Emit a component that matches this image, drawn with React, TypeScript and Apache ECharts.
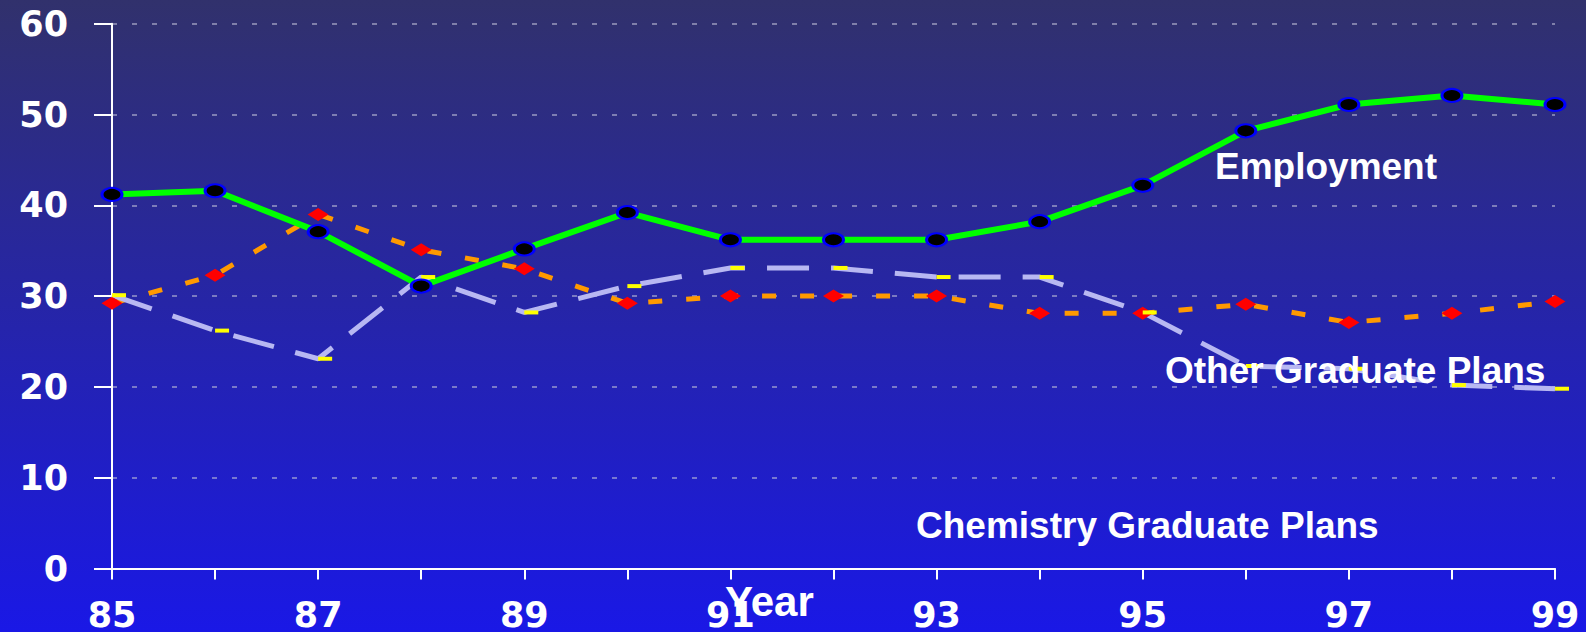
import React, { useEffect, useRef } from "react";
import * as echarts from "echarts";

const years = ["85", "86", "87", "88", "89", "90", "91", "92", "93", "94", "95", "96", "97", "98", "99"];
const employment = [41.2, 41.6, 37.1, 31.1, 35.2, 39.2, 36.2, 36.2, 36.2, 38.2, 42.2, 48.2, 51.1, 52.1, 51.1];
const otherPlans = [29.2, 32.3, 39.0, 35.1, 33.0, 29.2, 30.0, 30.0, 30.0, 28.1, 28.1, 29.1, 27.1, 28.1, 29.4];
const chemistryPlans = [30.1, 26.2, 23.1, 32.1, 28.2, 31.1, 33.1, 33.1, 32.1, 32.1, 28.2, 22.3, 22.0, 20.2, 19.8];
const yTicks = { min: 0, max: 60, interval: 10 };
const annotations = [
  { text: "Employment", x: 1215, y: 166 },
  { text: "Other Graduate Plans", x: 1165, y: 370 },
  { text: "Chemistry Graduate Plans", x: 916, y: 525 },
];
const axisTitle = { text: "Year", x: 725, y: 601 };

export default function App() {
  const ref = useRef<HTMLDivElement>(null);
  useEffect(() => {
    document.body.style.margin = "0";
    const chart = echarts.init(ref.current!, null, { renderer: "svg" });
    const labelFont = {
      color: "#ffffff",
      fontFamily: "DejaVu Sans",
      fontWeight: "bold" as const,
      fontSize: 35,
    };
    chart.setOption({
      animation: false,
      backgroundColor: {
        type: "linear",
        x: 0,
        y: 0,
        x2: 0,
        y2: 1,
        colorStops: [
          { offset: 0, color: "#31316c" },
          { offset: 1, color: "#1a18e6" },
        ],
      },
      grid: { left: 112, top: 23.7, right: 31, bottom: 62.3, containLabel: false },
      xAxis: {
        type: "category",
        data: years,
        boundaryGap: false,
        axisLine: { lineStyle: { color: "#ffffff", width: 2 } },
        axisTick: { show: true, interval: 0, length: 11, lineStyle: { color: "#ffffff", width: 2 } },
        axisLabel: { ...labelFont, interval: 1, margin: 32, lineHeight: 28, verticalAlign: "top" },
        splitLine: { show: false },
      },
      yAxis: {
        type: "value",
        min: yTicks.min,
        max: yTicks.max,
        interval: yTicks.interval,
        axisLine: { show: true, lineStyle: { color: "#ffffff", width: 2 } },
        axisTick: { show: true, length: 18, lineStyle: { color: "#ffffff", width: 2 } },
        axisLabel: { ...labelFont, margin: 44 },
        splitLine: {
          show: true,
          lineStyle: { color: "rgba(190,190,215,0.75)", width: 1.5, type: [5, 15] },
        },
      },
      graphic: [
        ...annotations.map((a) => ({
          type: "text",
          x: a.x,
          y: a.y,
          z: 100,
          style: {
            text: a.text,
            fill: "#ffffff",
            font: "bold 37px 'Liberation Sans', Arial, sans-serif",
            textAlign: "left",
            textVerticalAlign: "middle",
          },
        })),
        {
          type: "text",
          x: axisTitle.x,
          y: axisTitle.y,
          z: 100,
          style: {
            text: axisTitle.text,
            fill: "#ffffff",
            font: "bold 42px 'Liberation Sans', Arial, sans-serif",
            textAlign: "left",
            textVerticalAlign: "middle",
          },
        },
      ],
      series: [
        {
          name: "Other Graduate Plans",
          type: "line",
          data: otherPlans,
          showAllSymbol: true,
          symbol: "diamond",
          symbolSize: [21, 13],
          lineStyle: { color: "#ff9900", width: 5, type: [14, 24] },
          itemStyle: { color: "#ff0000", borderWidth: 0 },
        },
        {
          name: "Chemistry Graduate Plans",
          type: "line",
          data: chemistryPlans,
          showAllSymbol: true,
          symbol: "rect",
          symbolSize: [14, 4],
          symbolOffset: [7, 0],
          lineStyle: { color: "#b8b8f2", width: 5, type: [42, 22] },
          itemStyle: { color: "#ffff00", borderWidth: 0 },
        },
        {
          name: "Employment",
          type: "line",
          data: employment,
          showAllSymbol: true,
          symbol: "circle",
          symbolSize: [20, 13],
          lineStyle: { color: "#00ff00", width: 6 },
          itemStyle: { color: "#000000", borderColor: "#0000ff", borderWidth: 2.5 },
        },
      ],
    });
    return () => chart.dispose();
  }, []);
  return <div ref={ref} style={{ width: 1586, height: 632 }} />;
}
